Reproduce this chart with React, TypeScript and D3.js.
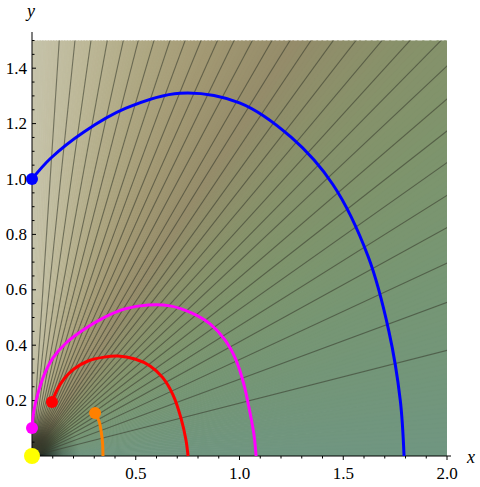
import React from "react";
import * as d3 from "d3";

// contour line angles (degrees, data coordinates)
const contourAngles = [10.8, 15.5, 19.2, 22.4, 25.2, 27.9, 30.4, 32.8, 35.15, 37.27, 39.47, 41.65, 43.85, 45.93, 48.13, 50.34, 52.37, 54.7, 57.0, 59.2, 61.5, 63.8, 66.1, 68.6, 71.15, 73.65, 76.4, 79.27, 82.14, 85.0];

// background colour by angle
const bgAngles = [0, 10, 20, 30, 40, 50, 60, 70, 80, 90];
const bgColors = ["#709681", "#739679", "#779673", "#7e946c", "#88916a", "#958c6a", "#a29873", "#afa883", "#bdb898", "#c6c3aa"];

const blueX = [0, 0.09, 0.25, 0.45, 0.713, 1.0, 1.25, 1.45, 1.62, 1.72, 1.775, 1.793];
const blueY = [1.0, 1.075, 1.17, 1.255, 1.31, 1.275, 1.15, 0.98, 0.72, 0.45, 0.2, 0];

const magX = [0, 0.0096, 0.029, 0.058, 0.101, 0.164, 0.246, 0.342, 0.448, 0.559, 0.665, 0.771, 0.858, 0.93, 0.983, 1.022, 1.051, 1.07, 1.08];
const magY = [0.101, 0.166, 0.227, 0.292, 0.354, 0.408, 0.455, 0.498, 0.531, 0.545, 0.542, 0.516, 0.477, 0.419, 0.347, 0.256, 0.155, 0.076, 0];

const redX = [0.096, 0.12, 0.154, 0.202, 0.27, 0.347, 0.414, 0.496, 0.569, 0.631, 0.68, 0.718, 0.742, 0.752];
const redY = [0.195, 0.238, 0.278, 0.314, 0.343, 0.357, 0.361, 0.35, 0.325, 0.282, 0.22, 0.137, 0.058, 0];

const orangeX = [0.304, 0.323, 0.333, 0.34, 0.342];
const orangeY = [0.155, 0.126, 0.09, 0.047, 0];

const dotX = [0, 0, 0.096, 0.304, 0];
const dotY = [1.0, 0.101, 0.195, 0.155, 0];
const dotColors = ["#0000ff", "#ff00ff", "#ff0000", "#ff8000", "#ffff00"];
const dotR = [6, 6, 6, 6, 8];

const xMajor = [0.5, 1.0, 1.5, 2.0];
const xMajorLabels = ["0.5", "1.0", "1.5", "2.0"];
const yMajor = [0.2, 0.4, 0.6, 0.8, 1.0, 1.2, 1.4];
const yMajorLabels = ["0.2", "0.4", "0.6", "0.8", "1.0", "1.2", "1.4"];

export default function App() {
  const x = d3.scaleLinear().domain([0, 2]).range([32, 447]);
  const y = d3.scaleLinear().domain([0, 1.5]).range([456, 40.5]);
  const color = d3.scaleLinear<string>().domain(bgAngles).range(bgColors).interpolate(d3.interpolateRgb);
  const R = 4;
  const rad = (a: number) => (a * Math.PI) / 180;
  const pt = (a: number, r: number) => [x(r * Math.cos(rad(a))), y(r * Math.sin(rad(a)))];

  const wedges: { d: string; c: string }[] = [];
  const step = 0.5;
  for (let a = 0; a < 90; a += step) {
    const p0 = [x(0), y(0)];
    const p1 = pt(a - 0.05, R);
    const p2 = pt(a + step + 0.05, R);
    wedges.push({ d: `M${p0[0]},${p0[1]}L${p1[0]},${p1[1]}L${p2[0]},${p2[1]}Z`, c: color(a + step / 2) });
  }

  const line = d3.line<number>().curve(d3.curveCatmullRom.alpha(0.5));
  const mk = (xs: number[], ys: number[]) => line.x((_, i) => x(xs[i])).y((_, i) => y(ys[i]))(xs.map((_, i) => i)) || "";

  const xMinor = d3.range(1, 21).map((i) => i / 10).filter((v) => Math.abs(v * 2 - Math.round(v * 2)) > 1e-6);
  const yMinor = d3.range(1, 31).map((i) => i / 20).filter((v) => Math.abs(v * 5 - Math.round(v * 5)) > 1e-6);

  const font = '"Liberation Serif", LiberationSerif, Tinos, "Times New Roman", Times, "Nimbus Roman", "FreeSerif", "Noto Serif", "DejaVu Serif", serif';

  return (
    <svg width={480} height={487} style={{ position: "absolute", left: 0, top: 0 }}>
      <defs>
        <clipPath id="plot">
          <rect x={x(0)} y={y(1.5)} width={x(2) - x(0)} height={y(0) - y(1.5)} />
        </clipPath>
        <radialGradient id="dark" cx={x(0)} cy={y(0)} r={48} gradientUnits="userSpaceOnUse">
          <stop offset="0" stopColor="#000" stopOpacity={0.95} />
          <stop offset="0.3" stopColor="#000" stopOpacity={0.6} />
          <stop offset="0.65" stopColor="#000" stopOpacity={0.2} />
          <stop offset="1" stopColor="#000" stopOpacity={0} />
        </radialGradient>
      </defs>
      <rect width={480} height={487} fill="#fff" />
      <g clipPath="url(#plot)">
        {wedges.map((w, i) => (
          <path key={i} d={w.d} fill={w.c} stroke={w.c} strokeWidth={0.6} />
        ))}
        <circle cx={x(0)} cy={y(0)} r={48} fill="url(#dark)" />
        {contourAngles.map((a, i) => {
          const p = pt(a, R);
          return <line key={i} x1={x(0)} y1={y(0)} x2={p[0]} y2={p[1]} stroke="#3a3e2e" strokeOpacity={0.6} strokeWidth={1.1} />;
        })}
      </g>
      {/* axes */}
      <g stroke="#000" strokeWidth={1}>
        <line x1={x(0)} y1={y(0)} x2={451} y2={y(0)} />
        <line x1={x(0)} y1={y(0)} x2={x(0)} y2={32} />
        {xMajor.map((v, i) => (
          <line key={"xM" + i} x1={x(v)} x2={x(v)} y1={y(0)} y2={y(0) + 4} />
        ))}
        {xMinor.map((v, i) => (
          <line key={"xm" + i} x1={x(v)} x2={x(v)} y1={y(0)} y2={y(0) + 2.5} />
        ))}
        {yMajor.map((v, i) => (
          <line key={"yM" + i} x1={x(0)} x2={x(0) + 4} y1={y(v)} y2={y(v)} />
        ))}
        {yMinor.map((v, i) => (
          <line key={"ym" + i} x1={x(0)} x2={x(0) + 2.5} y1={y(v)} y2={y(v)} />
        ))}
      </g>
      <g style={{ fontFamily: font, fontSize: "17px" }} fill="#000">
        {xMajor.map((v, i) => (
          <text key={"xl" + i} x={x(v)} y={479} textAnchor="middle">{xMajorLabels[i]}</text>
        ))}
        {yMajor.map((v, i) => (
          <text key={"yl" + i} x={27} y={y(v) + 5.5} textAnchor="end">{yMajorLabels[i]}</text>
        ))}
        <text x={27} y={17} style={{ fontStyle: "italic", fontSize: "18px" }}>y</text>
        <text x={467} y={463} style={{ fontStyle: "italic", fontSize: "18px" }}>x</text>
      </g>
      {/* curves */}
      <g fill="none" strokeWidth={3} strokeLinecap="butt">
        <path d={mk(blueX, blueY)} stroke="#0000ff" />
        <path d={mk(magX, magY)} stroke="#ff00ff" />
        <path d={mk(redX, redY)} stroke="#ff0000" />
        <path d={mk(orangeX, orangeY)} stroke="#ff8000" />
      </g>
      {dotX.map((v, i) => (
        <circle key={"d" + i} cx={x(v)} cy={y(dotY[i])} r={dotR[i]} fill={dotColors[i]} />
      ))}
    </svg>
  );
}
